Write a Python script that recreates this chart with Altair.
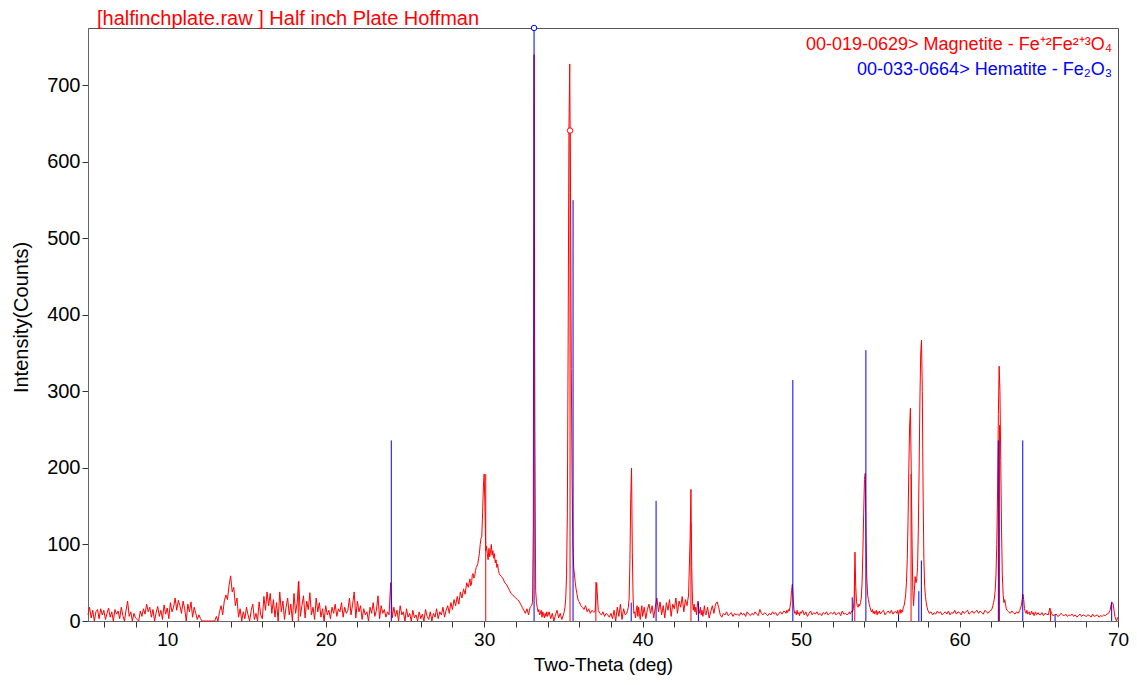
import altair as alt
import pandas as pd

# ---- measured pattern: key = whole degree, values evenly spaced across that degree ----
pattern_rows = {
    5: [8, 18, 4, 14, 0, 12, 15, 3, 16, 8],
    6: [14, 2, 10, 17, 5, 12, 0, 15, 9, 13],
    7: [3, 18, 7, 0, 14, 26, 6, 12, 0, 10],
    8: [4, 2, 0, 13, 6, 16, 9, 22, 12, 18],
    9: [5, 15, 0, 11, 19, 6, 14, 2, 21, 9],
    10: [17, 3, 24, 12, 18, 30, 14, 27, 20, 10],
    11: [26, 16, 0, 22, 12, 25, 5, 18, 10, 2],
    12: [8, 3, 0, 0, 0, 0, 0, 0, 0, 0],
    13: [0, 6, 0, 12, 20, 8, 26, 34, 28, 46],
    14: [59, 38, 44, 20, 30, 5, 16, 0, 12, 3],
    15: [18, 8, 0, 14, 22, 2, 10, 0, 25, 8],
    16: [3, 32, 14, 38, 20, 36, 10, 28, 5, 24],
    17: [0, 38, 12, 26, 2, 18, 30, 8, 22, 0],
    18: [36, 10, 24, 52, 6, 20, 33, 4, 26, 15],
    19: [37, 8, 18, 2, 30, 12, 24, 5, 16, 0],
    20: [20, 8, 14, 3, 18, 10, 22, 6, 16, 12],
    21: [24, 5, 18, 10, 14, 30, 8, 22, 38, 4],
    22: [26, 12, 20, 2, 16, 8, 12, 0, 18, 10],
    23: [24, 6, 14, 33, 3, 20, 10, 15, 5, 12],
    24: [8, 50, 4, 18, 6, 14, 0, 20, 8, 12],
    25: [0, 16, 5, 10, 0, 14, 4, 8, 0, 12],
    26: [3, 9, 0, 15, 6, 2, 12, 0, 10, 5],
    27: [16, 3, 12, 8, 18, 5, 14, 20, 10, 24],
    28: [15, 28, 20, 32, 22, 38, 30, 42, 35, 50],
    29: [44, 50, 55, 46, 48, 60, 62, 56, 58, 66, 70, 72, 75, 82, 88, 100, 108, 110, 140, 175],
    30: [192, 150, 92, 98, 88, 80, 95, 84, 90, 100, 86, 92, 82, 88, 76, 80, 70, 74, 66, 62],
    31: [60, 58, 55, 50, 48, 44, 40, 36, 34, 32],
    32: [30, 28, 26, 22, 18, 14, 10, 16, 8, 18],
    33: [20, 25, 120, 740, 260, 40, 24, 18, 12, 15, 8, 10, 14, 5, 12, 8, 4, 10, 6, 12],
    34: [6, 12, 3, 10, 0, 8, 14, 4, 10, 2],
    35: [8, 12, 18, 30, 60, 140, 360, 640, 728, 560, 330, 180, 100, 70, 60, 50, 42, 36, 30, 26],
    36: [25, 20, 18, 15, 20, 12, 16, 10, 14, 12],
    37: [12, 50, 14, 10, 8, 12, 6, 10, 8, 5],
    38: [10, 3, 14, 0, 18, 6, 22, 2, 16, 8],
    39: [10, 14, 18, 30, 80, 160, 200, 90, 30, 10, 12, 4, 14, 20, 6, 18, 10, 2, 12, 20],
    40: [6, 18, 3, 15, 22, 10, 20, 4, 18, 30],
    41: [12, 25, 8, 20, 4, 24, 14, 28, 6, 22],
    42: [16, 30, 10, 26, 18, 32, 12, 28, 20, 34],
    43: [110, 172, 70, 25, 14, 22, 12, 18, 8, 20, 26, 15, 10, 18, 8, 14, 6, 12, 20, 10],
    44: [8, 18, 4, 12, 20, 10, 22, 25, 18, 8],
    45: [5, 10, 8, 12, 7, 9, 11, 6, 10, 8],
    46: [9, 7, 11, 8, 10, 6, 12, 9, 7, 10],
    47: [8, 12, 9, 7, 15, 10, 8, 11, 9, 7],
    48: [10, 8, 12, 9, 11, 7, 10, 12, 9, 13],
    49: [12, 10, 14, 11, 15, 13, 18, 25, 40, 48, 30, 15, 10, 12, 8, 14, 9, 11, 7, 12],
    50: [10, 14, 8, 12, 6, 10, 13, 8, 11, 9],
    51: [12, 8, 10, 7, 11, 9, 12, 8, 10, 11],
    52: [9, 12, 8, 10, 11, 7, 13, 9, 10, 8],
    53: [10, 12, 9, 11, 13, 12, 16, 30, 90, 45, 25, 20, 18, 22, 20, 24, 30, 50, 90, 140],
    54: [185, 193, 110, 55, 34, 28, 22, 18, 14, 12, 15, 10, 13, 9, 12, 14, 8, 12, 10, 13],
    55: [9, 12, 14, 8, 11, 13, 10, 14, 9, 12],
    56: [12, 10, 14, 8, 12, 15, 10, 14, 12, 18, 20, 26, 35, 50, 80, 130, 200, 255, 278, 200],
    57: [110, 40, 20, 40, 58, 50, 55, 70, 120, 200, 290, 350, 367, 300, 170, 80, 45, 32, 24, 18],
    58: [14, 10, 12, 8, 11, 9, 13, 10, 12, 8],
    59: [10, 12, 9, 13, 8, 11, 10, 14, 9, 12],
    60: [11, 8, 13, 10, 12, 14, 9, 11, 13, 10],
    61: [12, 14, 10, 13, 11, 9, 14, 12, 10, 13],
    62: [14, 16, 20, 24, 30, 40, 60, 100, 170, 270, 333, 300, 210, 120, 60, 35, 24, 28, 22, 16],
    63: [14, 12, 10, 13, 11, 9, 12, 10, 14, 20],
    64: [35, 28, 16, 12, 10, 14, 9, 11, 12, 8, 10, 13, 9, 11, 7, 10, 12, 8, 9, 11],
    65: [9, 8, 11, 7, 10, 9, 8, 17, 10, 7],
    66: [8, 9, 6, 7, 10, 8, 7, 9, 6, 8],
    67: [7, 9, 6, 8, 5, 7, 9, 6, 8, 7],
    68: [6, 8, 7, 5, 9, 6, 7, 8, 5, 7],
    69: [6, 8, 7, 9, 10, 14, 25, 22, 6, 0],
    70: [5],
}

# ---- reference patterns (stick positions / heights as drawn) ----
magnetite_pos = [18.27, 30.10, 35.42, 37.05, 43.05, 53.39, 56.94, 62.52, 65.74]
magnetite_int = [51, 192, 641, 51, 128, 64, 192, 256, 13]
hematite_pos = [24.14, 33.15, 35.61, 39.28, 40.85, 43.52, 49.48, 53.23, 54.09,
                56.15, 57.43, 57.59, 62.45, 63.99, 66.03, 69.60]
hematite_int = [236, 775, 550, 24, 157, 24, 315, 31, 354, 8, 39, 79, 236, 236, 8, 24]
magnetite_mark = [35.42]
magnetite_mark_int = [641]
hematite_mark = [33.15]
hematite_mark_int = [775]

title_text = "[halfinchplate.raw ] Half inch Plate Hoffman"
legend_magnetite = "00-019-0629> Magnetite - Fe\u207a\u00b2Fe\u00b2\u207a\u00b3O\u2084"
legend_hematite = "00-033-0664> Hematite - Fe\u2082O\u2083"
x_title = "Two-Theta (deg)"
y_title = "Intensity(Counts)"
x_tick_values = list(range(6, 71, 2))
x_label_values = list(range(10, 71, 10))
y_tick_values = list(range(0, 701, 100))

rows = []
for deg, vals in pattern_rows.items():
    step = 1.0 / len(vals)
    for i, v in enumerate(vals):
        rows.append({"tt": round(deg + i * step, 4), "counts": v})
df = pd.DataFrame(rows)

df_m = pd.DataFrame({"tt": magnetite_pos, "h": magnetite_int, "base": 0})
df_h = pd.DataFrame({"tt": hematite_pos, "h": hematite_int, "base": 0})
df_mm = pd.DataFrame({"tt": magnetite_mark, "h": magnetite_mark_int})
df_hm = pd.DataFrame({"tt": hematite_mark, "h": hematite_mark_int})

FONT = "Liberation Sans"
xscale = alt.Scale(domain=[5, 70], nice=False, zero=False)
yscale = alt.Scale(domain=[0, 775], nice=False)

label_test = " || ".join(f"datum.value == {v}" for v in x_label_values)
xaxis = alt.Axis(values=x_tick_values, labelExpr=f"({label_test}) ? datum.label : ''",
                 labelOverlap=False, labelSeparation=0,
                 grid=False, tickSize=6, tickColor="#333", domainColor="#666",
                 labelFontSize=19, labelColor="black", labelPadding=3, labelFlush=False,
                 title=x_title, titleFontSize=19, titleFontWeight="normal", titleColor="black",
                 titlePadding=6)
yaxis = alt.Axis(values=y_tick_values, grid=False, tickSize=6, tickColor="#333", domainColor="#666",
                 labelOverlap=False,
                 labelFontSize=20, labelColor="black", labelPadding=2, labelFlush=False,
                 title=y_title, titleFontSize=20, titleFontWeight="normal", titleColor="black",
                 titleX=-57, titleY=289)

X = alt.X("tt:Q", scale=xscale, axis=xaxis)

line = alt.Chart(df).mark_line(color="#FF0000", strokeWidth=1).encode(
    x=X, y=alt.Y("counts:Q", scale=yscale, axis=yaxis),
)
mag = alt.Chart(df_m).mark_rule(color="#FF0000", strokeWidth=1).encode(
    x=X, y=alt.Y("h:Q", scale=yscale, axis=yaxis), y2="base:Q")
hem = alt.Chart(df_h).mark_rule(color="#0000FF", strokeWidth=1).encode(
    x=X, y=alt.Y("h:Q", scale=yscale, axis=yaxis), y2="base:Q")
mag_pt = alt.Chart(df_mm).mark_point(shape="circle", fill="white", fillOpacity=1, stroke="#FF0000",
                                     strokeWidth=1, size=30, opacity=1).encode(
    x=X, y=alt.Y("h:Q", scale=yscale, axis=yaxis))
hem_pt = alt.Chart(df_hm).mark_point(shape="circle", fill="white", fillOpacity=1, stroke="#0000FF",
                                     strokeWidth=1, size=30, opacity=1).encode(
    x=X, y=alt.Y("h:Q", scale=yscale, axis=yaxis))

title = alt.Chart(pd.DataFrame({"t": [title_text]})).mark_text(
    align="left", baseline="middle", fontSize=20, color="#FF0000", font=FONT).encode(
    text="t:N", x=alt.value(9), y=alt.value(-9))
leg1 = alt.Chart(pd.DataFrame({"t": [legend_magnetite]})).mark_text(
    align="right", baseline="middle", fontSize=18, color="#FF0000", font=FONT).encode(
    text="t:N", x=alt.value(1024), y=alt.value(17))
leg2 = alt.Chart(pd.DataFrame({"t": [legend_hematite]})).mark_text(
    align="right", baseline="middle", fontSize=18, color="#0000FF", font=FONT).encode(
    text="t:N", x=alt.value(1024), y=alt.value(42))

chart = alt.layer(line, mag, hem, mag_pt, hem_pt, title, leg1, leg2).properties(
    width=1030, height=593,
    autosize=alt.AutoSizeParams(type="none"),
    padding={"left": 80, "top": 20, "right": 11, "bottom": 56},
).configure(font=FONT).configure_view(stroke="#555", strokeWidth=1)

chart.save("out.html", embed_options={"renderer": "svg", "actions": False})
